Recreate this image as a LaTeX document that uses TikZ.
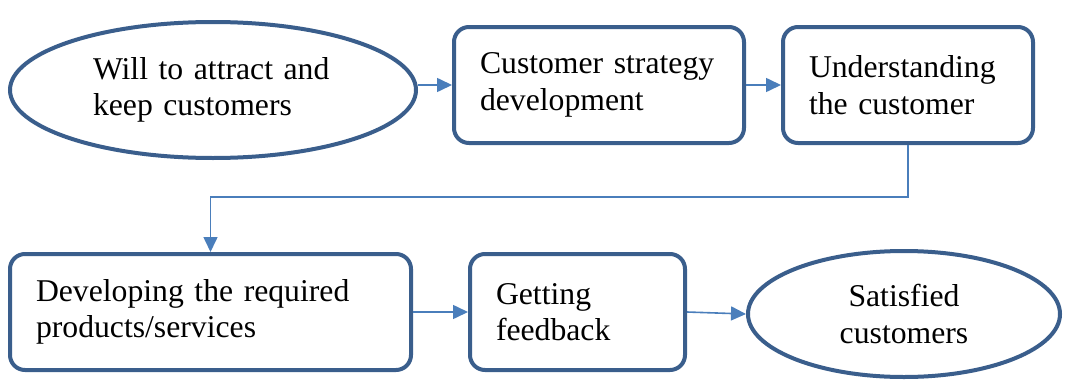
\documentclass[tikz,border=0pt]{standalone}
\usepackage{fontspec}
\setmainfont{Liberation Serif}
\usepackage{tikz}
\usetikzlibrary{shapes.geometric,arrows.meta}
\usetikzlibrary{positioning}
\definecolor{edgeblue}{HTML}{3A5E8C}
\definecolor{linkblue}{HTML}{4A7EBB}
\tikzset{>={Triangle[length=15pt,width=14pt]}, font=\fontsize{31.7}{36.5}\selectfont}
\tikzstyle{block} = [draw=edgeblue, line width=4pt, fill=white, rectangle, rounded corners=15pt, minimum height=116pt, inner xsep=26pt, inner ysep=0pt, align=left]
\tikzstyle{oval} = [draw=edgeblue, line width=4pt, fill=white, ellipse, inner sep=0pt]
\tikzstyle{link} = [draw=linkblue, line width=1.6pt, ->]

\begin{document}
\begin{tikzpicture}[x=1pt,y=1pt]
    \useasboundingbox (0,0) rectangle (1068,-383);
    \node [oval, minimum width=406pt, minimum height=136pt, align=left, text width=240pt] (will) at (213,-90) {Will to attract and\\keep customers};
    \node [block, text width=238pt] (strategy) at (599,-85) {Customer strategy\\development};
    \node [block, text width=198pt, right=35pt of strategy] (understand) {Understanding\\the customer};
    \node [block, text width=349pt] (develop) at (210.5,-312) {Developing the required\\products/services};
    \node [block, text width=163pt, right=55pt of develop] (feedback) {Getting\\feedback};
    \node [oval, minimum width=312pt, minimum height=126pt, align=center, right=59pt of feedback, yshift=-2pt] (satisfied) {Satisfied\\customers};

    \draw [link] (will.east |- strategy.west) -- (strategy.west);
    \draw [link] (strategy) -- (understand);
    \draw [link] (understand.south) -- ++(0,-52) -| (develop.north);
    \draw [link] (develop) -- (feedback);
    \draw [link] (feedback.east) -- (satisfied.west);
\end{tikzpicture}
\end{document}
